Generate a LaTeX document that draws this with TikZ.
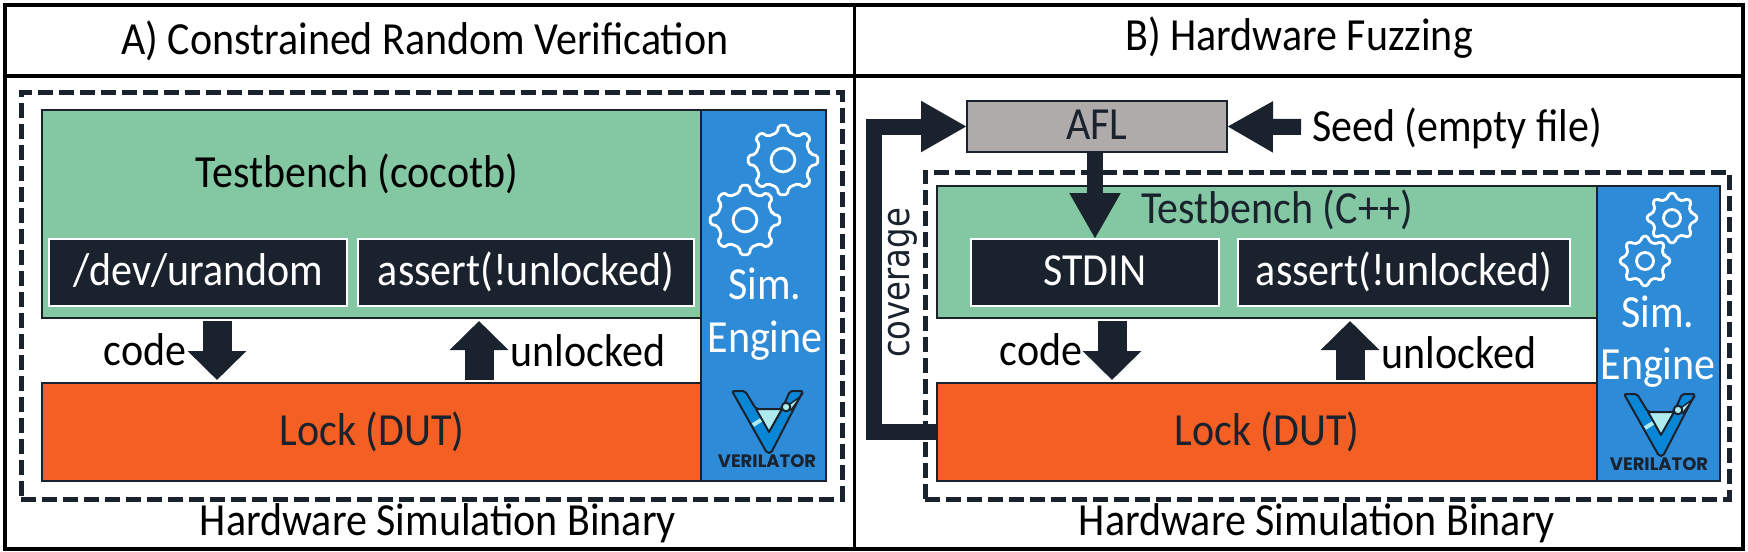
\documentclass[tikz,border=0pt]{standalone}
\usepackage{fontspec}
\setmainfont{Carlito}[FakeStretch=0.913]
\newfontfamily\coveragefont{DejaVu Sans}[FakeStretch=0.85]
\newfontfamily\logofont{Poppins}
\usetikzlibrary{arrows.meta,fit}
\definecolor{inkdark}{HTML}{1A222E}
\definecolor{tbgreen}{HTML}{84C7A3}
\definecolor{lockorange}{HTML}{F46023}
\definecolor{simblue}{HTML}{2E8BD8}
\definecolor{aflgrey}{HTML}{AFABAB}
\definecolor{logoblue}{HTML}{0A86D6}
\definecolor{logocyan}{HTML}{AEEBEE}
\tikzset{
  panel/.style={draw=inkdark, line width=1.2pt, inner sep=0pt, outer sep=0pt},
  frameline/.style={draw=black, line width=1.8pt},
  binary/.style={draw=inkdark, line width=2.5pt, dash pattern=on 7.5pt off 3pt},
  darkbox/.style={panel, fill=inkdark, draw=white, line width=1pt},
  label/.style={font=\fontsize{23}{27}\selectfont, text=inkdark, inner sep=0pt, anchor=base},
  boxlabel/.style={label, text=white},
  bigarrow/.style={draw=inkdark, line width=14.5pt, -{Triangle[length=14.5pt, width=28.5pt]}, shorten <=1.5pt, shorten >=1.5pt},
  flowarrow/.style={draw=inkdark, line width=8pt, miter limit=10, -{Triangle[length=23pt, width=24pt]}},
  gearwheel/.pic={
    \draw[white, line width=1.4pt, line join=round, rounded corners=1pt]
      (-12:#1*.8) \foreach \a in {0,45,...,315} {
        -- ({\a-12}:#1*.8) -- ({\a-7}:#1) -- ({\a+7}:#1) -- ({\a+12}:#1*.8)} -- cycle;
    \draw[white, line width=1.4pt] (0,0) circle [radius=#1*.34];
  },
  verilogo/.pic={
    \draw[fill=logoblue, draw=inkdark, line width=1pt, line join=round, rounded corners=1pt]
      (0,0) -- (13,0) -- (24,18) -- (50,18) -- (58,0) -- (71,0) -- (39,62) -- (35,62) -- cycle;
    \draw[fill=logocyan, draw=inkdark, line width=1pt, line join=round]
      (24,18) -- (50,18) -- (37,41) -- cycle;
    \draw[logocyan, line width=2pt] (21,34) -- (29,29);
    \draw[fill=logocyan, draw=inkdark, line width=.7pt] (54,16) -- (69,5) -- (59,19) -- cycle;
    \draw[fill=logocyan, draw=inkdark, line width=1pt] (54,16) circle [radius=4.3];
    \node[font=\logofont\bfseries\fontsize{9}{11}\selectfont, text=inkdark, inner sep=0pt] (name) at (35,70.5) {VERILATOR};
  }
}
\begin{document}
\begin{tikzpicture}[x=0.5pt, y=-0.5pt]
\useasboundingbox (0,0) rectangle (1748,551);
\node[frameline, inner sep=0pt, fit={(5,5) (1743,549)}] (frame) {};
\draw[frameline] (frame.west |- 0,76) -- (frame.east |- 0,76);
\draw[frameline] (854.5,5) -- (854.5,549);
\node[label, text=black] (titleA) at (425,54.7) {A) Constrained Random Verification};
\node[label, text=black] (titleB) at (1299,51) {B) Hardware Fuzzing};
% dashed simulation binaries
\node[binary, inner sep=0pt, fit={(21,93) (842,499)}] (binA) {};
\node[binary, inner sep=0pt, fit={(925,172) (1729,499)}] (binB) {};
\node[label, text=black] (binlabelA) at (438,535.4) {Hardware Simulation Binary};
\node[label, text=black] (binlabelB) at (1317,535.4) {Hardware Simulation Binary};
% panel A
\node[panel, fill=simblue, fit={(701,110) (826,481)}] (simA) {};
\node[panel, fill=tbgreen, fit={(42,110) (701,318)}] (tbA) {};
\node[panel, fill=lockorange, fit={(42,383) (701,481)}] (lockA) {};
\node[darkbox, fit={(49,239) (347,306)}] (randA) {};
\node[darkbox, fit={(358,239) (694,306)}] (assertA) {};
\node[label, text=black] (tblabelA) at (357,187) {Testbench (cocotb)};
\node[boxlabel] (randtextA) at (randA |- 0,285.7) {/dev/urandom};
\node[boxlabel] (asserttextA) at (assertA |- 0,285.7) {assert(!unlocked)};
\node[label] (locktextA) at (372,445) {Lock (DUT)};
% panel B
\node[panel, fill=simblue, fit={(1597,186) (1720,481)}] (simB) {};
\node[panel, fill=tbgreen, fit={(937,186) (1597,318)}] (tbB) {};
\node[panel, fill=lockorange, fit={(937,383) (1597,481)}] (lockB) {};
\node[darkbox, fit={(971,239) (1219,306)}] (randB) {};
\node[darkbox, fit={(1238,239) (1570,306)}] (assertB) {};
\node[panel, fill=aflgrey, fit={(967,101) (1227,152)}] (aflB) {};
\node[label] (tblabelB) at (1277,223) {Testbench (C++)};
\node[boxlabel] (randtextB) at (randB |- 0,285) {STDIN};
\node[boxlabel] (asserttextB) at (assertB |- 0,285) {assert(!unlocked)};
\node[label] (locktextB) at (1267,445) {Lock (DUT)};
\node[label] (afltext) at (aflB |- 0,140) {AFL};
\node[label, text=black] (seedlabel) at (1457,141) {Seed (empty file)};
% code and unlocked arrows
\foreach \n/\d/\u/\c/\l/\b in {A/217/479/145/588/366, B/1112/1350/1041/1459/368} {
  \draw[bigarrow] (tb\n.south -| \d,0) -- (lock\n.north -| \d,0);
  \draw[bigarrow] (lock\n.north -| \u,0) -- (tb\n.south -| \u,0);
  \node[label, text=black] (code\n) at (\c,365) {code};
  \node[label, text=black] (unlocked\n) at (\l,\b) {unlocked};
}
% fuzzer loop
\coordinate (covleft) at (874,127);
\coordinate (seedend) at (1301,127);
\draw[flowarrow] (lockB.west) -| (covleft) |- (aflB.west);
\draw[flowarrow] (seedend) -- (aflB.east);
\draw[flowarrow] (aflB.south -| randB.north) -- (randB.north);
\node[font=\coveragefont\fontsize{19}{21}\selectfont, text=inkdark, inner sep=0pt, rotate=90, anchor=base] (covlabel) at (909,283) {coverage};
% sim engines
\node[boxlabel] (simtextA) at (765,299) {Sim.};
\node[boxlabel] (enginetextA) at (765,352) {Engine};
\node[boxlabel] (simtextB) at (1658,327) {Sim.};
\node[boxlabel] (enginetextB) at (1658,379) {Engine};
\pic at (783,160) {gearwheel=35};
\pic at (745,220) {gearwheel=35};
\pic at (1672,218) {gearwheel=25};
\pic at (1645,261) {gearwheel=25};
\pic (logoA) at (732,391) {verilogo};
\pic (logoB) at (1624,394) {verilogo};
\end{tikzpicture}
\end{document}
